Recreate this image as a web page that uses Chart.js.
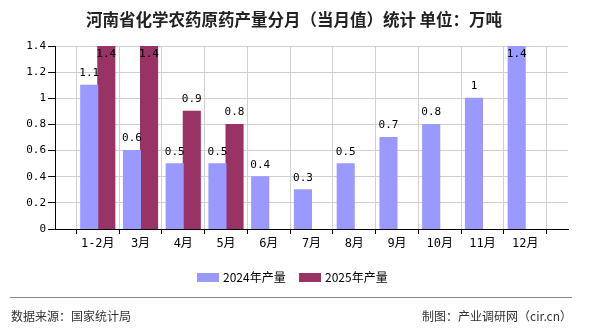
<!DOCTYPE html>
<html>
<head>
<meta charset="utf-8">
<script src="https://cdn.jsdelivr.net/npm/chart.js@4"></script>
<style>
html,body{margin:0;padding:0;background:#fff;}
#c{display:block;}
</style>
</head>
<body>
<canvas id="c" width="590" height="330"></canvas>
<script>
const categories = ['', '1-2月', '3月', '4月', '5月', '6月', '7月', '8月', '9月', '10月', '11月', '12月', ''];
const series2024 = [null, 1.1, 0.6, 0.5, 0.5, 0.4, 0.3, 0.5, 0.7, 0.8, 1, 1.4, null];
const series2025 = [null, 1.4, 1.4, 0.9, 0.8, null, null, null, null, null, null, null, null];
const seriesNames = ['2024年产量', '2025年产量'];
const titleText = '河南省化学农药原药产量分月（当月值）统计 单位：万吨';
const sourceText = '数据来源：国家统计局';
const creditText = '制图：产业调研网（cir.cn）';
const colors = ['#9999ff', '#993366'];

const monoFont = "'DejaVu Sans Mono', 'Noto Sans CJK SC', monospace";
const cjkFont = "'Noto Sans CJK SC', sans-serif";

const decorPlugin = {
  id: 'decor',
  afterDatasetsDraw(chart) {
    const ctx = chart.ctx;
    const area = chart.chartArea;
    ctx.save();
    ctx.font = "11px " + monoFont;
    ctx.fillStyle = '#000';
    ctx.textAlign = 'center';
    ctx.textBaseline = 'middle';
    chart.data.datasets.forEach((ds, di) => {
      const meta = chart.getDatasetMeta(di);
      meta.data.forEach((bar, i) => {
        const v = ds.data[i];
        if (v === null || v === undefined) return;
        let y = bar.y - 12;
        if (y < area.top + 8) y = area.top + 8;
        ctx.fillText(String(v), bar.x, y);
      });
    });
    ctx.restore();
  },
  afterDraw(chart) {
    const ctx = chart.ctx;
    ctx.save();
    ctx.font = "bold 16.5px " + cjkFont;
    ctx.fillStyle = '#222';
    ctx.textAlign = 'center';
    ctx.textBaseline = 'middle';
    ctx.fillText(titleText, 294, 20);
    ctx.font = "12px " + cjkFont;
    ctx.textAlign = 'left';
    ctx.fillStyle = colors[0];
    ctx.fillRect(197, 273, 22, 9);
    ctx.fillStyle = '#000';
    ctx.fillText(seriesNames[0], 223, 277.5);
    ctx.fillStyle = colors[1];
    ctx.fillRect(299, 273, 22, 9);
    ctx.fillStyle = '#000';
    ctx.fillText(seriesNames[1], 325, 277.5);
    ctx.strokeStyle = '#888';
    ctx.lineWidth = 1;
    ctx.beginPath();
    ctx.moveTo(10, 297.5);
    ctx.lineTo(572, 297.5);
    ctx.stroke();
    ctx.fillStyle = '#333';
    ctx.font = "12px " + cjkFont;
    ctx.textAlign = 'left';
    ctx.fillText(sourceText, 11, 316);
    ctx.textAlign = 'right';
    ctx.fillText(creditText, 572, 316);
    ctx.restore();
  }
};

new Chart(document.getElementById('c'), {
  type: 'bar',
  data: {
    labels: categories,
    datasets: [
      { label: seriesNames[0], data: series2024, backgroundColor: colors[0], borderWidth: 0, inflateAmount: 0.5, categoryPercentage: 0.8, barPercentage: 1.0 },
      { label: seriesNames[1], data: series2025, backgroundColor: colors[1], borderWidth: 0, inflateAmount: 0.5, categoryPercentage: 0.8, barPercentage: 1.0 }
    ]
  },
  options: {
    responsive: false,
    animation: false,
    devicePixelRatio: 1,
    layout: { padding: { top: 46, left: 0, right: 22, bottom: 76 } },
    plugins: { legend: { display: false }, title: { display: false }, tooltip: { enabled: false } },
    scales: {
      x: {
        offset: false,
        grid: { color: '#d0d0d0', lineWidth: 1, drawTicks: true, tickLength: 5, tickColor: '#000' },
        border: { color: '#000', width: 1 },
        ticks: { color: '#000', font: { family: monoFont, size: 12 }, autoSkip: false, maxRotation: 0, padding: 3 },
        afterFit(s) { s.height = 25; }
      },
      y: {
        min: 0, max: 1.4,
        ticks: {
          stepSize: 0.2, color: '#000', font: { family: monoFont, size: 11 }, padding: 2,
          callback: (v) => String(Number(Number(v).toFixed(1)))
        },
        grid: { color: '#d0d0d0', lineWidth: 1, tickLength: 7, tickColor: '#000' },
        border: { color: '#000', width: 1 },
        afterFit(s) { s.width = 55; }
      }
    }
  },
  plugins: [decorPlugin]
});
</script>
</body>
</html>
